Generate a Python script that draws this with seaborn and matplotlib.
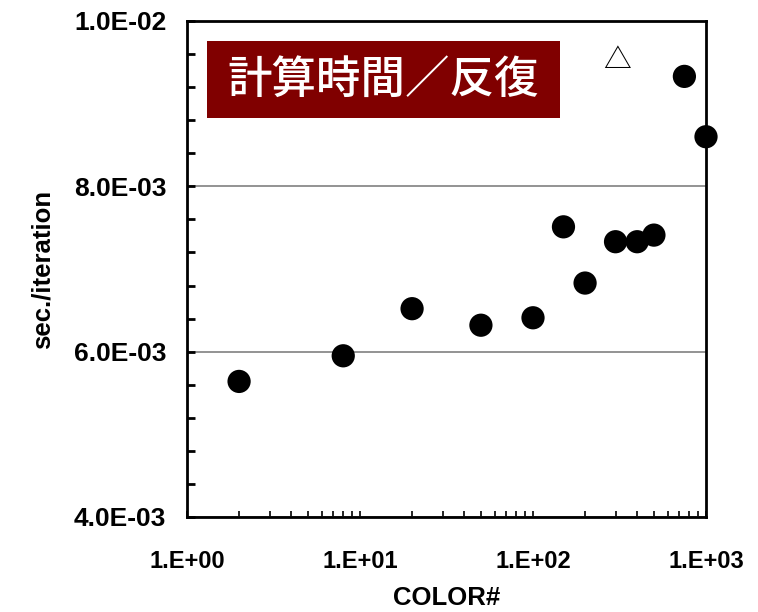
import numpy as np
import pandas as pd
import matplotlib
matplotlib.use("Agg")
import matplotlib.pyplot as plt
import matplotlib.ticker as mticker
from matplotlib.patches import Rectangle
import seaborn as sb

# data
colors = [2, 8, 20, 50, 100, 150, 200, 300, 400, 500, 750, 1000]
sec_per_iter = [5.64e-3, 5.95e-3, 6.52e-3, 6.32e-3, 6.41e-3, 7.51e-3,
                6.83e-3, 7.33e-3, 7.33e-3, 7.41e-3, 9.33e-3, 8.60e-3]
title_text = "計算時間／反復"
mark_text = "△"

df = pd.DataFrame({"COLOR#": colors, "sec./iteration": sec_per_iter})

sb.set_style("white")
plt.rcParams['font.family'] = ['Liberation Sans', 'DejaVu Sans']
plt.rcParams['text.color'] = 'black'
plt.rcParams['axes.labelcolor'] = 'black'
plt.rcParams['xtick.color'] = 'black'
plt.rcParams['ytick.color'] = 'black'

fig = plt.figure(figsize=(7.58, 6.12), dpi=100)
ax = fig.add_axes([187/758, 1-517/612, (706-187)/758, (517-21)/612])

sb.scatterplot(data=df, x="COLOR#", y="sec./iteration", ax=ax,
               color="black", s=280, edgecolor="none", zorder=3, clip_on=False)

ax.set_xscale("log")
ax.set_xlim(1, 1000)
ax.set_ylim(4e-3, 1e-2)

ax.yaxis.set_major_locator(mticker.MultipleLocator(2e-3))
ax.yaxis.set_minor_locator(mticker.MultipleLocator(0.4e-3))
ax.yaxis.set_major_formatter(mticker.FuncFormatter(lambda v, p: "%.1E" % v))
ax.xaxis.set_major_locator(mticker.LogLocator(base=10))
ax.xaxis.set_minor_locator(mticker.LogLocator(base=10, subs=np.arange(2, 10)))
ax.xaxis.set_major_formatter(mticker.FuncFormatter(lambda v, p: "%#.0E" % v))
ax.xaxis.set_minor_formatter(mticker.NullFormatter())

ax.grid(axis="y", which="major", color="#808080", linewidth=1.2)
ax.grid(axis="x", visible=False)
for s in ax.spines.values():
    s.set_color("black")
    s.set_linewidth(2)

ax.tick_params(axis="y", which="both", direction="in", length=6, width=2,
               left=True, pad=15, labelsize=19)
ax.tick_params(axis="x", which="both", direction="in", length=4, width=1.2,
               bottom=True, pad=24, labelsize=17)
for lab in ax.get_xticklabels() + ax.get_yticklabels():
    lab.set_fontweight("bold")

ax.set_xlabel("COLOR#", fontsize=18.5, fontweight="bold", labelpad=9)
ax.set_ylabel("sec./iteration", fontsize=18.5, fontweight="bold", labelpad=14)

# title box
fig.patches.append(Rectangle((207/758, 1-118/612), (560-207)/758, (118-41)/612,
                             transform=fig.transFigure, facecolor="#800000",
                             edgecolor="none", zorder=5))
fig.text(383/758, 1-80/612, title_text, color="white", fontsize=32,
         fontweight="medium", ha="center", va="center", zorder=6,
         family=['Noto Sans CJK JP', 'DejaVu Sans'])
fig.text(617/758, 1-60/612, mark_text, color="black", fontsize=20,
         ha="center", va="center", family=['Noto Sans CJK JP', 'DejaVu Sans'])

plt.savefig("out.png", dpi=100)
